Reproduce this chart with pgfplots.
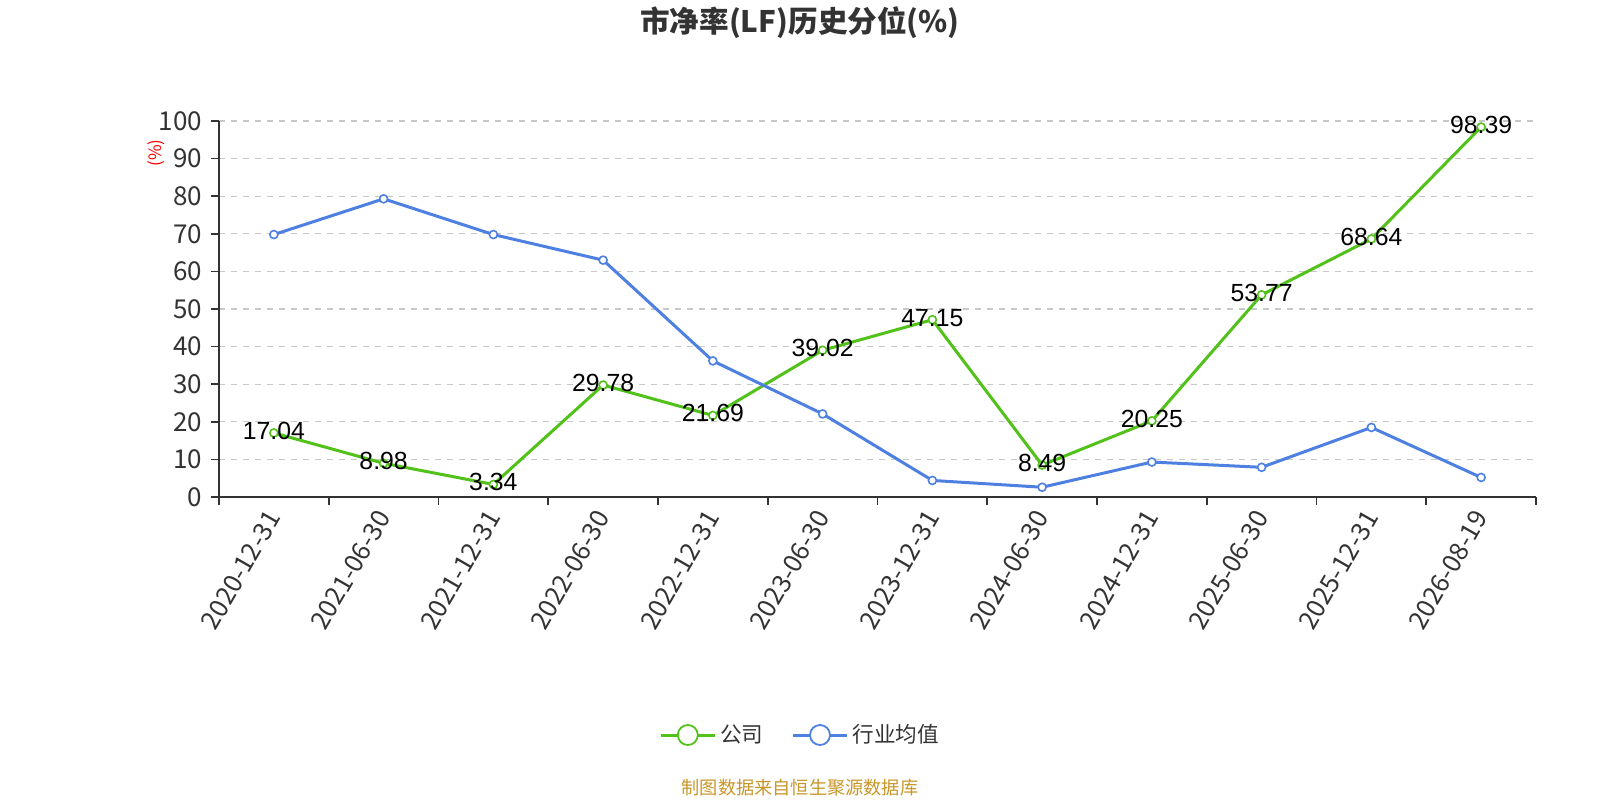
\documentclass[border=0pt]{standalone}
\usepackage{pgfplots}
\pgfplotsset{compat=1.18}
\usepackage{fontspec}
\setmainfont{Noto Sans CJK SC}
\newfontfamily\labfont{Liberation Sans}
\definecolor{cgreen}{RGB}{82,194,26}
\definecolor{cblue}{RGB}{78,128,226}
\definecolor{ctext}{RGB}{51,51,51}
\definecolor{cgrid}{RGB}{200,200,200}
\definecolor{csrc}{RGB}{200,150,40}
\begin{document}
\begin{tikzpicture}
\path[use as bounding box] (0,0) rectangle (800pt,400pt);
\node[font=\bfseries\fontsize{14.8}{16}\selectfont, text=ctext] at (400pt,388.5pt) {市净率(LF)历史分位(\%)};
\node[font=\fontsize{8.5}{9}\selectfont, text=red, rotate=90] at (78pt,323.5pt) {(\%)};
\node[font=\fontsize{9.1}{10}\selectfont, text=csrc] at (400pt,6pt) {制图数据来自恒生聚源数据库};
\begin{axis}[
  at={(109.5pt,151.5pt)}, anchor=south west,
  scale only axis, width=658.5pt, height=188pt,
  xmin=-0.5, xmax=11.5, ymin=0, ymax=100,
  axis lines*=left,
  axis line style={draw=ctext, line width=0.8pt},
  ytick={0,10,...,100},
  ymajorgrids, grid style={dashed, cgrid, line width=0.6pt},
  xtick={0,...,11},
  xticklabels={2020-12-31,2021-06-30,2021-12-31,2022-06-30,2022-12-31,2023-06-30,2023-12-31,2024-06-30,2024-12-31,2025-06-30,2025-12-31,2026-08-19},
  minor xtick={-0.5,0.5,...,11.5},
  x tick style={draw=none},
  minor x tick style={draw=ctext, line width=0.8pt},
  y tick style={draw=ctext, line width=0.8pt},
  tick align=outside, major tick length=4pt, minor tick length=4pt,
  tick label style={font=\fontsize{13}{15}\selectfont, text=ctext},
  /pgf/number format/assume math mode=true,
  xticklabel style={rotate=60, anchor=east, yshift=-2pt, font=\fontsize{12.8}{14}\selectfont},
  yticklabel style={xshift=-1pt},
  legend style={at={(0.442,-0.633)}, anchor=center, draw=none, fill=none,
    legend columns=2, font=\fontsize{10.8}{12}\selectfont, text=ctext,
    /tikz/every even column/.append style={column sep=12pt}},
  legend image code/.code={\draw[mark repeat=2,mark phase=2,#1, mark options={fill=white, scale=2.5, line width=0.9pt}] plot coordinates {(0pt,0pt) (13.5pt,0pt) (27pt,0pt)};},
]
\addplot[cgreen, line width=1.5pt, mark=*, mark size=2pt, mark options={fill=white, line width=0.8pt},
  nodes near coords, point meta=explicit symbolic,
  every node near coord/.append style={anchor=center, yshift=1pt, font=\labfont\fontsize{12.4}{14}\selectfont, text=black}]
  coordinates {
  (0,17.04) [17.04] (1,8.98) [8.98] (2,3.34) [3.34] (3,29.78) [29.78] (4,21.69) [21.69] (5,39.02) [39.02]
  (6,47.15) [47.15] (7,8.49) [8.49] (8,20.25) [20.25] (9,53.77) [53.77] (10,68.64) [68.64] (11,98.39) [98.39]};
\addlegendentry{公司}
\addplot[cblue, line width=1.5pt, mark=*, mark size=2pt, mark options={fill=white, line width=0.8pt}]
  coordinates {
  (0,69.8) (1,79.3) (2,69.8) (3,63.0) (4,36.2) (5,22.1) (6,4.4) (7,2.6) (8,9.3) (9,7.9) (10,18.5) (11,5.2)};
\addlegendentry{行业均值}
\end{axis}
\end{tikzpicture}
\end{document}
